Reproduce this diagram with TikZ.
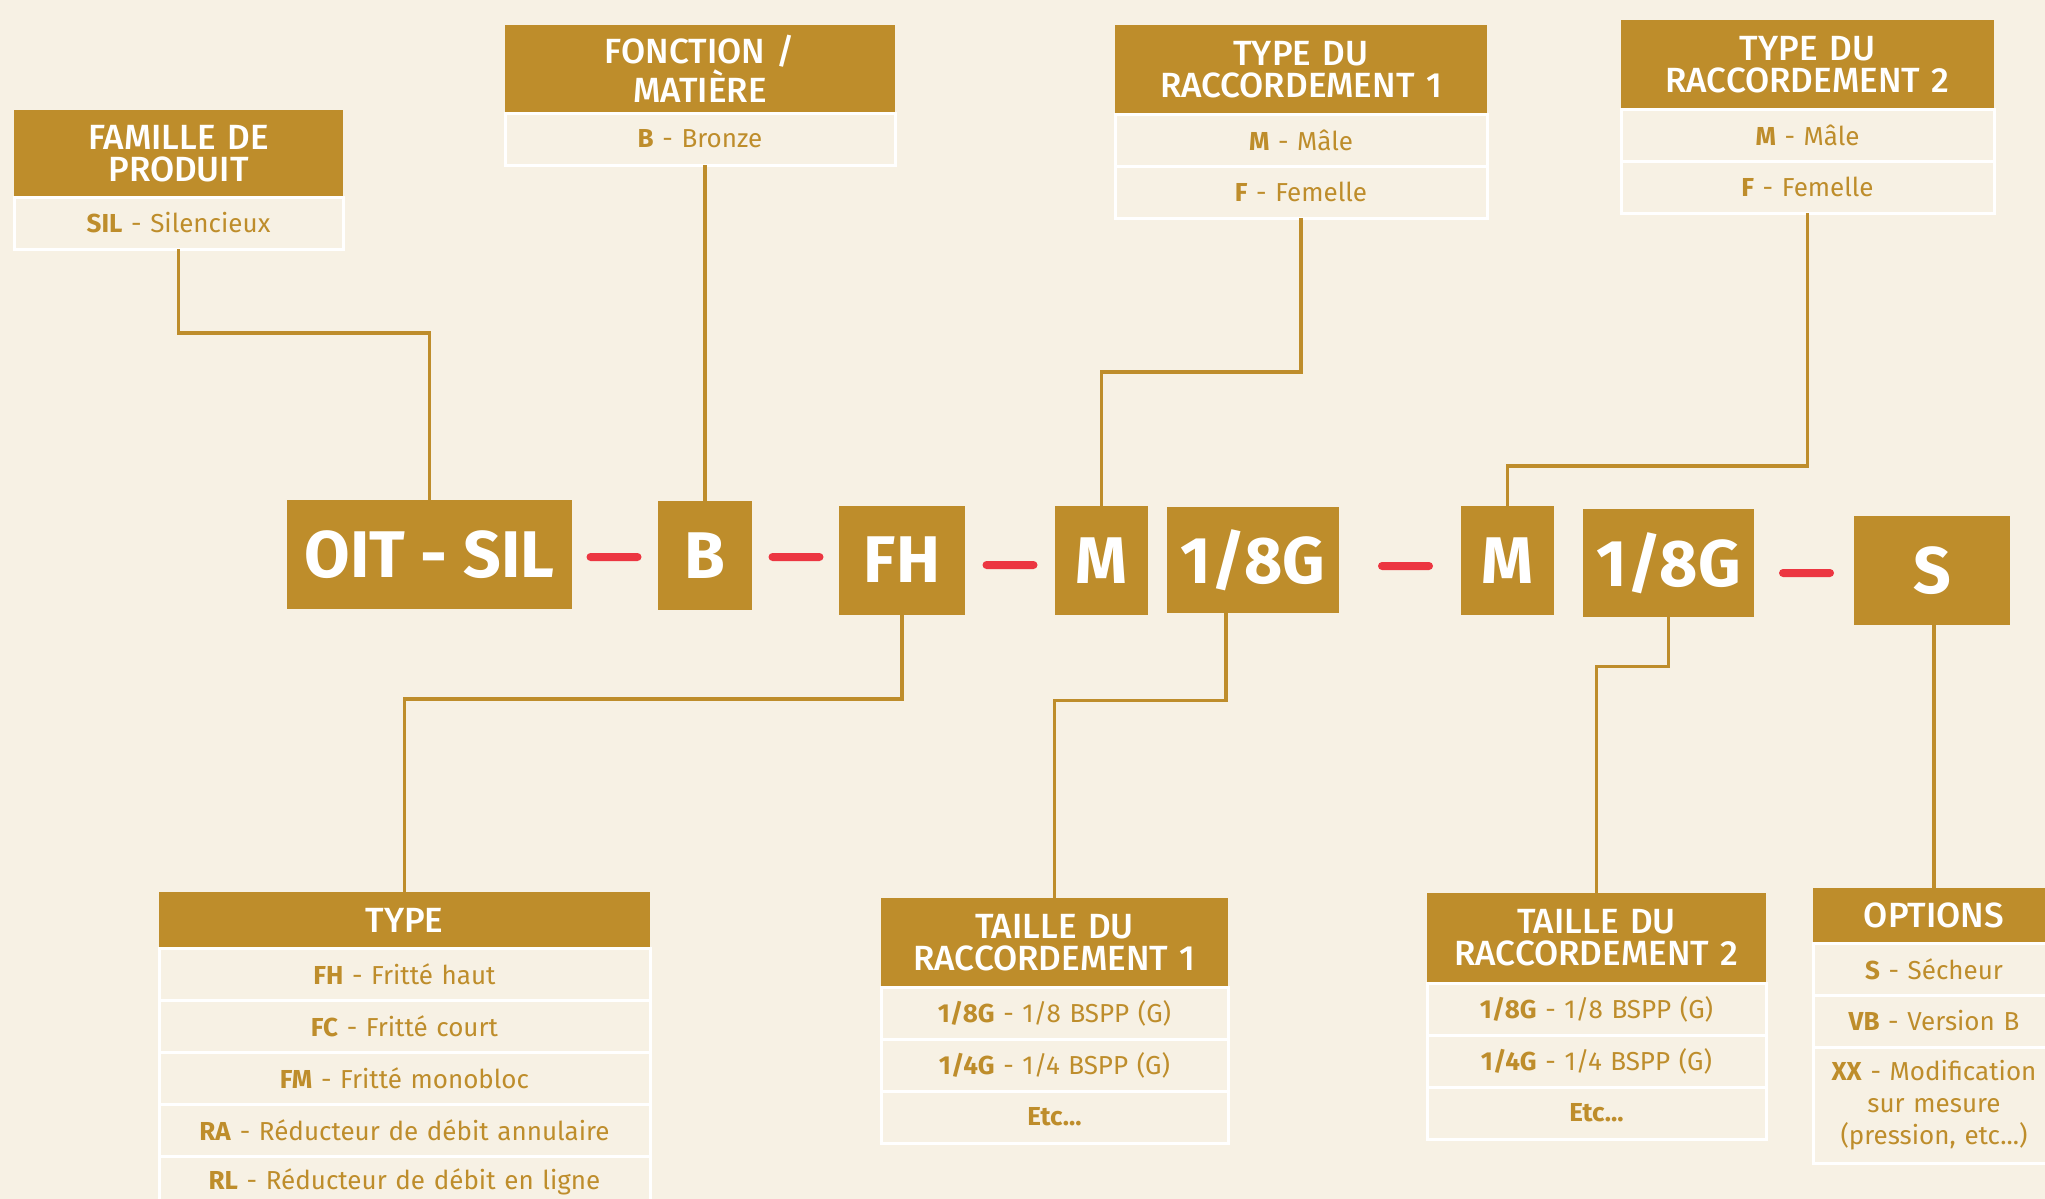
\documentclass[tikz,border=0pt]{standalone}
\usepackage{fontspec}
\setmainfont{Fira Sans}
\newfontfamily\headfont{Fira Sans}[UprightFont={* Medium}]
\usetikzlibrary{positioning}
\definecolor{gold}{HTML}{BE8D2B}
\definecolor{cream}{HTML}{F7F1E4}
\definecolor{dashred}{HTML}{EC3641}
\begin{document}
\begin{tikzpicture}[
    x=0.5pt, y=-0.5pt,
    head/.style={fill=gold, text=white, font=\headfont\fontsize{17.5}{16}\selectfont, align=center, inner sep=0pt, outer sep=0pt, anchor=north, text width=#1},
    item/.style={fill=cream, draw=white, line width=1.5pt, text=gold, font=\fontsize{13}{16}\selectfont, align=center, inner sep=0pt, outer sep=0pt, minimum height=26pt, text width=#1},
    code/.style={fill=gold, text=white, font=\bfseries\fontsize{33}{33}\selectfont, inner sep=0pt, minimum height=54.5pt},
    sepbar/.style={fill=dashred, rounded corners=2pt, minimum width=27.5pt, minimum height=4pt, inner sep=0pt},
    link/.style={draw=gold, line width=1.6pt}
]
    \useasboundingbox (0,0) rectangle (2045,1199);
    \fill[cream] (0,0) rectangle (2045,1199);

    % code
    \node[code, minimum width=142.5pt] (codeoit) at (429.5,554.5) {OIT - SIL};
    \node[code, minimum width=47pt] (codeb) at (705,555.5) {B};
    \node[code, minimum width=63pt] (codefh) at (902,560) {FH};
    \node[code, minimum width=46.5pt] (codem1) at (1101.5,560.5) {M};
    \node[code, minimum width=86pt, minimum height=53pt] (codeg1) at (1253,560) {1/8G};
    \node[code, minimum width=46.5pt] (codem2) at (1507.5,560.5) {M};
    \node[code, minimum width=85.5pt, minimum height=54pt] (codeg2) at (1668.5,563) {1/8G};
    \node[code, minimum width=78pt] (codes) at (1932,570.5) {S};
    \foreach \i/\p in {1/{614,557}, 2/{796,557}, 3/{1010,565}, 4/{1405.5,566}, 5/{1806.5,573}}
        \node[sepbar] (sep\i) at (\p) {};

    % top tables
    \node[head=164.5pt, minimum height=43.5pt] (famh) at (178.5,110) {FAMILLE DE\\PRODUIT};
    \node[item=164.5pt, below=0pt of famh] (fam1) {\textbf{SIL} - Silencieux};

    \node[head=195pt, minimum height=44pt] (fonh) at (700,25) {FONCTION /\\MATIÈRE};
    \node[item=195pt, below=0pt of fonh] (fon1) {\textbf{B} - Bronze};

    \node[head=186pt, minimum height=44.5pt] (tr1h) at (1301,25) {TYPE DU\\RACCORDEMENT 1};
    \node[item=186pt, below=0pt of tr1h] (tr1a) {\textbf{M} - Mâle};
    \node[item=186pt, below=0pt of tr1a] (tr1b) {\textbf{F} - Femelle};

    \node[head=186.5pt, minimum height=44.5pt] (tr2h) at (1807.5,20) {TYPE DU\\RACCORDEMENT 2};
    \node[item=186.5pt, below=0pt of tr2h] (tr2a) {\textbf{M} - Mâle};
    \node[item=186.5pt, below=0pt of tr2a] (tr2b) {\textbf{F} - Femelle};

    % bottom tables
    \node[head=245.5pt, minimum height=28pt] (typh) at (404.5,892) {TYPE};
    \node[item=245.5pt, below=0pt of typh] (typ1) {\textbf{FH} - Fritté haut};
    \node[item=245.5pt, below=0pt of typ1] (typ2) {\textbf{FC} - Fritté court};
    \node[item=245.5pt, below=0pt of typ2] (typ3) {\textbf{FM} - Fritté monobloc};
    \node[item=245.5pt, below=0pt of typ3] (typ4) {\textbf{RA} - Réducteur de débit annulaire};
    \node[item=245.5pt, below=0pt of typ4] (typ5) {\textbf{RL} - Réducteur de débit en ligne};

    \node[head=173.5pt, minimum height=44.5pt] (ta1h) at (1054.5,898) {TAILLE DU\\RACCORDEMENT 1};
    \node[item=173.5pt, below=0pt of ta1h] (ta1a) {\textbf{1/8G} - 1/8 BSPP (G)};
    \node[item=173.5pt, below=0pt of ta1a] (ta1b) {\textbf{1/4G} - 1/4 BSPP (G)};
    \node[item=173.5pt, below=0pt of ta1b] (ta1c) {\textbf{Etc...}};

    \node[head=169.5pt, minimum height=45pt] (ta2h) at (1596.5,893) {TAILLE DU\\RACCORDEMENT 2};
    \node[item=169.5pt, below=0pt of ta2h] (ta2a) {\textbf{1/8G} - 1/8 BSPP (G)};
    \node[item=169.5pt, below=0pt of ta2a] (ta2b) {\textbf{1/4G} - 1/4 BSPP (G)};
    \node[item=169.5pt, below=0pt of ta2b] (ta2c) {\textbf{Etc...}};

    \node[head=121pt, minimum height=27.5pt] (opth) at (1934,888) {OPTIONS};
    \node[item=121pt, below=0pt of opth] (opt1) {\textbf{S} - Sécheur};
    \node[item=121pt, below=0pt of opt1] (opt2) {\textbf{VB} - Version B};
    \node[item=121pt, minimum height=58pt, below=0pt of opt2] (opt3) {\textbf{XX} - Modification\\sur mesure\\(pression, etc...)};

    % links
    \draw[link] (fam1.south) -- ++(0,84) -| (codeoit.north);
    \draw[link] (codeb.north |- fon1.south) -- (codeb.north);
    \draw[link] (tr1b.south) -- ++(0,154) -| (codem1.north);
    \draw[link] (tr2b.south) -- ++(0,253) -| (codem2.north);
    \draw[link] (codefh.south) -- ++(0,84) -| (typh.north);
    \draw[link] ([xshift=-13.5pt]codeg1.south) -- ++(0,87) -| (ta1h.north);
    \draw[link] (codeg2.south) -- ++(0,49) -| (ta2h.north);
    \draw[link] (opth.north |- codes.south) -- (opth.north);
\end{tikzpicture}
\end{document}
